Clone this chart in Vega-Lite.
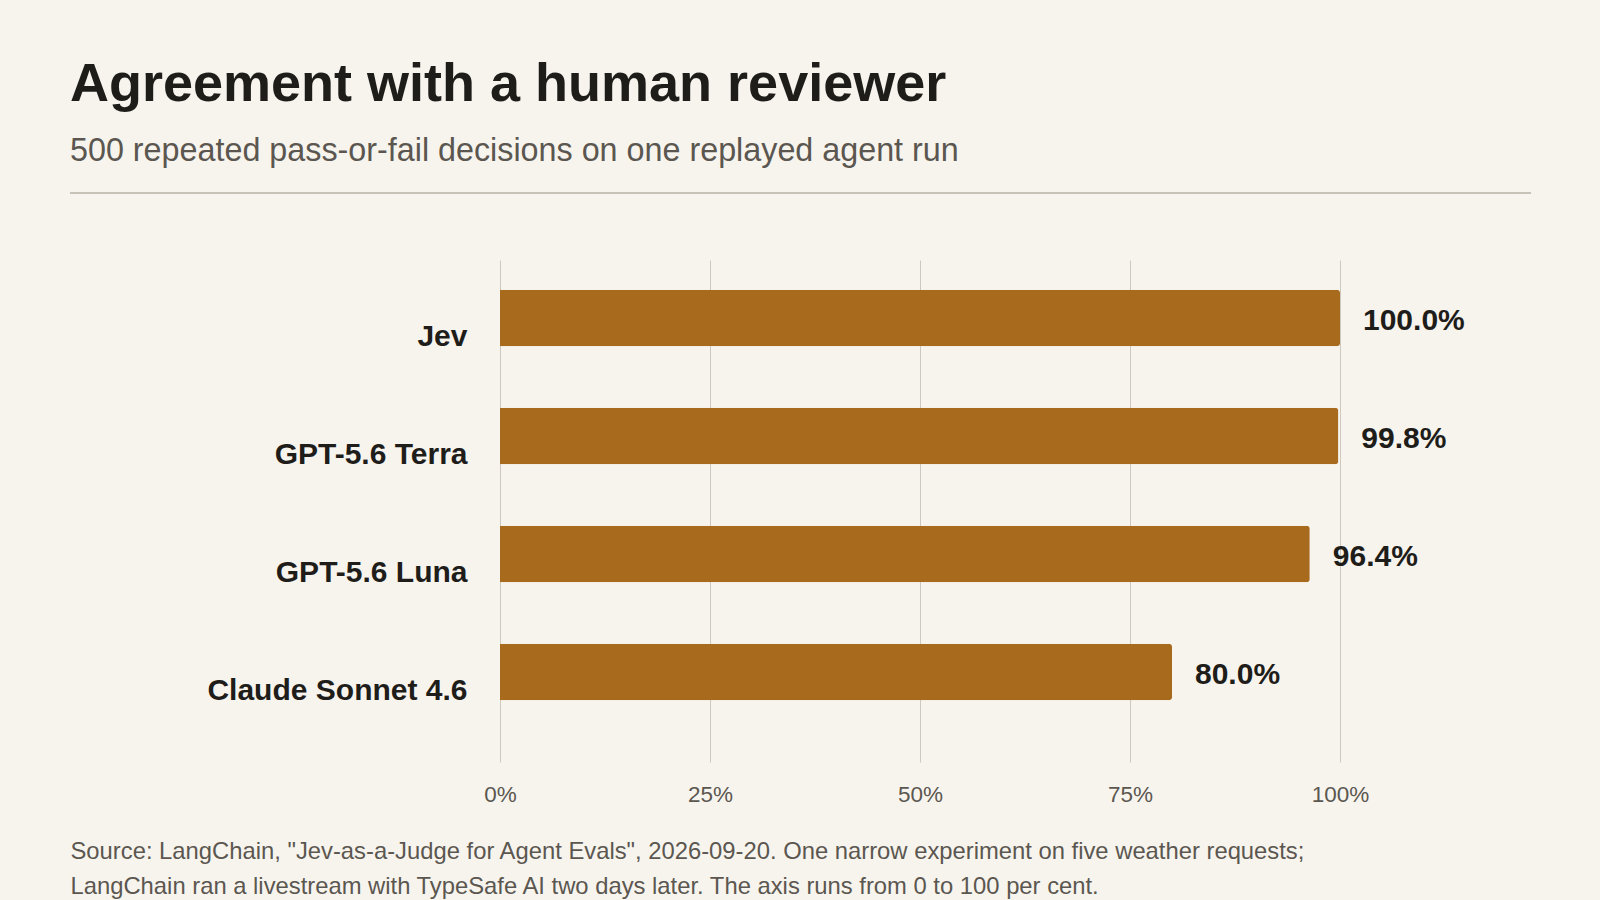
{
  "$schema": "https://vega.github.io/schema/vega-lite/v6.json",
  "width": 840,
  "height": 502,
  "autosize": {"type": "none"},
  "padding": {"left": 500, "top": 260, "right": 260, "bottom": 138},
  "background": "#f7f4ee",
  "config": {
    "font": "Liberation Sans",
    "view": {"stroke": null}
  },
  "title": {
    "text": "Agreement with a human reviewer",
    "subtitle": "500 repeated pass-or-fail decisions on one replayed agent run",
    "anchor": "start",
    "frame": "group",
    "dx": -430,
    "offset": 25,
    "subtitlePadding": 23,
    "font": "Liberation Sans",
    "fontSize": 54,
    "fontWeight": "bold",
    "color": "#1f1d1a",
    "subtitleFont": "Liberation Sans",
    "subtitleFontSize": 32.3,
    "subtitleFontWeight": "normal",
    "subtitleColor": "#5b5750"
  },
  "resolve": {"scale": {"y": "independent"}},
  "layer": [
    {
      "data": {
        "values": [
          {"model": "Jev", "agreement": 1.0},
          {"model": "GPT-5.6 Terra", "agreement": 0.998},
          {"model": "GPT-5.6 Luna", "agreement": 0.964},
          {"model": "Claude Sonnet 4.6", "agreement": 0.8}
        ]
      },
      "encoding": {
        "y": {
          "field": "model",
          "type": "nominal",
          "sort": null,
          "scale": {"paddingInner": 0.5195, "paddingOuter": 0.387},
          "axis": {
            "title": null,
            "domain": false,
            "ticks": false,
            "tickSize": 0,
            "labelPadding": 33,
            "labelFont": "Liberation Sans",
            "labelFontSize": 30,
            "labelFontWeight": "bold",
            "labelColor": "#1f1d1a",
            "labelBaseline": "alphabetic",
            "labelOffset": 11.8,
            "labelLimit": 400
          }
        },
        "x": {
          "field": "agreement",
          "type": "quantitative",
          "scale": {"domain": [0, 1], "nice": false, "zero": true},
          "axis": {
            "values": [0, 0.25, 0.5, 0.75, 1],
            "format": ".0%",
            "domain": false,
            "ticks": false,
            "tickSize": 0,
            "grid": true,
            "gridColor": "#cdc9c0",
            "gridWidth": 1,
            "labelFont": "Liberation Sans",
            "labelFontSize": 22.5,
            "labelColor": "#5b5750",
            "labelPadding": 21,
            "labelFlush": false,
            "title": [
              "Source: LangChain, \"Jev-as-a-Judge for Agent Evals\", 2026-09-20. One narrow experiment on five weather requests;",
              "LangChain ran a livestream with TypeSafe AI two days later. The axis runs from 0 to 100 per cent."
            ],
            "titleFont": "Liberation Sans",
            "titleFontSize": 23.8,
            "titleFontWeight": "normal",
            "titleColor": "#5b5750",
            "titleAlign": "left",
            "titleAnchor": "start",
            "titleBaseline": "alphabetic",
            "titleX": -430,
            "titleY": 96.3,
            "titleLineHeight": 34.8
          }
        }
      },
      "layer": [
        {
          "mark": {
            "type": "bar",
            "color": "#a86a1d",
            "cornerRadiusEnd": 3,
            "yOffset": -16
          }
        },
        {
          "mark": {
            "type": "text",
            "align": "left",
            "baseline": "alphabetic",
            "dx": 23,
            "dy": 12,
            "yOffset": -16,
            "font": "Liberation Sans",
            "fontSize": 30,
            "fontWeight": "bold",
            "color": "#1f1d1a"
          },
          "encoding": {
            "text": {"field": "agreement", "type": "quantitative", "format": ".1%"}
          }
        }
      ]
    },
    {
      "data": {"values": [{"line": "divider", "from": -0.5119, "to": 1.2274, "level": 569}]},
      "mark": {"type": "rule", "color": "#c6c2b8", "strokeWidth": 2},
      "encoding": {
        "x": {"field": "from", "type": "quantitative", "scale": {"domain": [0, 1], "nice": false}},
        "x2": {"field": "to"},
        "y": {"field": "level", "type": "quantitative", "scale": {"domain": [0, 502], "nice": false, "zero": false}, "axis": null}
      }
    }
  ]
}
